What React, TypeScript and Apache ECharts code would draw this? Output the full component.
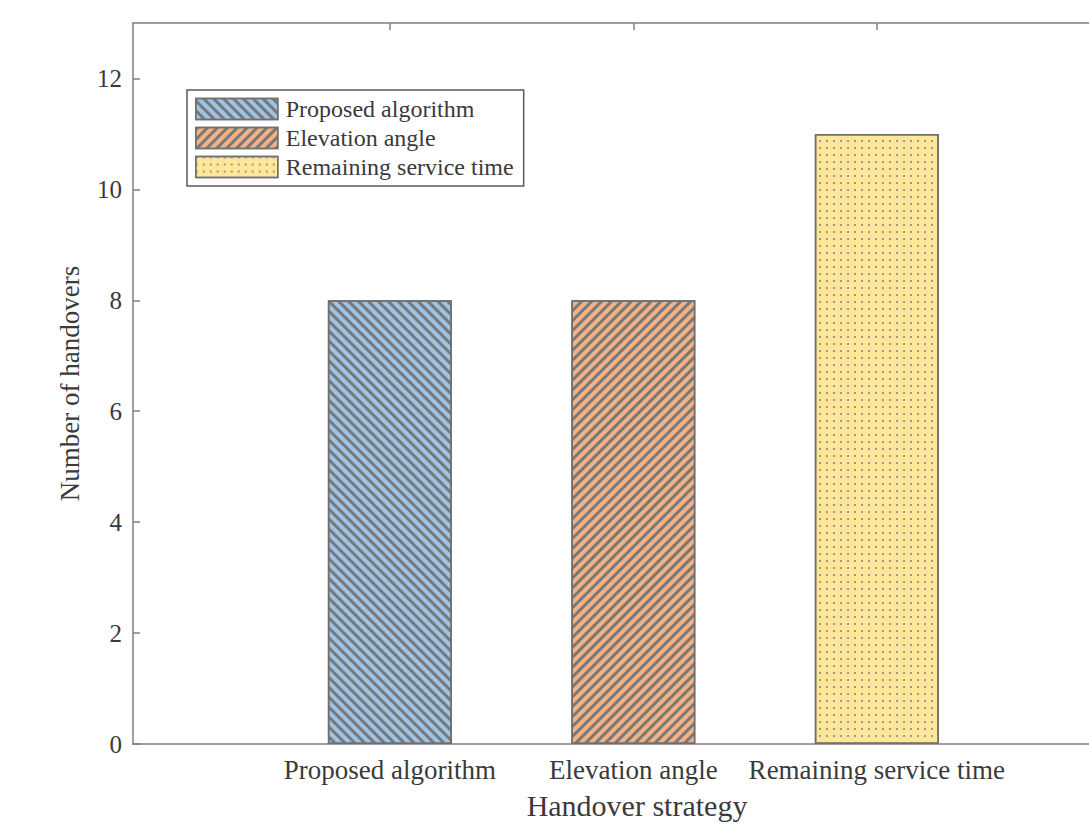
import React, { useEffect, useRef } from 'react';
import * as echarts from 'echarts';

const categories = ['Proposed algorithm', 'Elevation angle', 'Remaining service time'];
const positions = [1, 2, 3];
const handovers = [8, 8, 11];
const yTicks = [0, 2, 4, 6, 8, 10, 12];
const fillColors = ['#9DC3E6', '#F4B183', '#FFE699'];

const FONT = '"Liberation Serif", "Times New Roman", serif';
const AXIS_COLOR = '#7f7f7f';
const TEXT_COLOR = '#3a3a3a';
const EDGE = '#6f6f6f';
const HATCH = '#787878';

const decals: any[] = [
  { symbol: 'rect', symbolSize: 1, dashArrayX: [1, 0], dashArrayY: [2.5, 3.5], rotation: Math.PI / 4, color: HATCH },
  { symbol: 'rect', symbolSize: 1, dashArrayX: [1, 0], dashArrayY: [2.5, 3.5], rotation: -Math.PI / 4, color: HATCH },
  { symbol: 'circle', symbolSize: 1, dashArrayX: [1.6, 4.4], dashArrayY: [1.6, 4.4], rotation: 0, color: '#8a8a8a' },
];

export default function App() {
  const ref = useRef<HTMLDivElement>(null);
  useEffect(() => {
    const chart = echarts.init(ref.current!, null, { renderer: 'svg' });
    const xMin = -0.055;
    const xMax = 4.085;
    const option: any = {
      animation: false,
      backgroundColor: '#ffffff',
      grid: { left: 133, top: 23, width: 1008, height: 723, containLabel: false },
      legend: {
        orient: 'vertical',
        left: 187,
        top: 90,
        padding: [7, 10, 7, 8],
        itemWidth: 82,
        itemHeight: 21,
        itemGap: 5,
        borderColor: '#5a5a5a',
        borderWidth: 1.5,
        backgroundColor: '#ffffff',
        icon: 'rect',
        textStyle: { fontFamily: FONT, fontSize: 24, color: TEXT_COLOR, padding: [0, 0, 0, 3] },
        itemStyle: { borderColor: EDGE, borderWidth: 1.5 },
        data: categories,
      },
      xAxis: [
        {
          type: 'value',
          position: 'bottom',
          min: xMin,
          max: xMax,
          name: 'Handover strategy',
          nameLocation: 'middle',
          nameGap: 46,
          nameTextStyle: { fontFamily: FONT, fontSize: 30, color: TEXT_COLOR },
          axisLine: { show: true, onZero: false, lineStyle: { color: AXIS_COLOR, width: 1.5 } },
          axisTick: { show: true, inside: true, length: 7, customValues: positions, lineStyle: { color: AXIS_COLOR, width: 1.5 } },
          axisLabel: {
            customValues: positions,
            margin: 12,
            fontFamily: FONT,
            fontSize: 27,
            color: TEXT_COLOR,
            formatter: (v: number) => categories[positions.indexOf(Math.round(v))] ?? '',
          },
          splitLine: { show: false },
        },
        {
          type: 'value',
          position: 'top',
          min: xMin,
          max: xMax,
          axisLine: { show: true, onZero: false, lineStyle: { color: AXIS_COLOR, width: 1.5 } },
          axisTick: { show: true, inside: true, length: 7, customValues: positions, lineStyle: { color: AXIS_COLOR, width: 1.5 } },
          axisLabel: { show: false },
          splitLine: { show: false },
        },
      ],
      yAxis: [
        {
          type: 'value',
          position: 'left',
          min: 0,
          max: 13,
          name: 'Number of handovers',
          nameLocation: 'middle',
          nameGap: 50,
          nameTextStyle: { fontFamily: FONT, fontSize: 27, color: TEXT_COLOR },
          axisLine: { show: true, onZero: false, lineStyle: { color: AXIS_COLOR, width: 1.5 } },
          axisTick: { show: true, inside: true, length: 7, customValues: yTicks, lineStyle: { color: AXIS_COLOR, width: 1.5 } },
          axisLabel: { customValues: yTicks, margin: 11, fontFamily: FONT, fontSize: 25, color: TEXT_COLOR },
          splitLine: { show: false },
        },
        {
          type: 'value',
          position: 'right',
          min: 0,
          max: 13,
          axisLine: { show: true, onZero: false, lineStyle: { color: AXIS_COLOR, width: 1.5 } },
          axisTick: { show: true, inside: true, length: 7, customValues: yTicks, lineStyle: { color: AXIS_COLOR, width: 1.5 } },
          axisLabel: { show: false },
          splitLine: { show: false },
        },
      ],
      series: categories.map((name, i) => ({
        type: 'bar',
        name,
        xAxisIndex: 0,
        yAxisIndex: 0,
        barWidth: 124,
        barGap: '-100%',
        data: [[positions[i], handovers[i]]],
        itemStyle: {
          color: fillColors[i],
          borderColor: EDGE,
          borderWidth: 1.5,
          decal: decals[i],
        },
      })),
    };
    chart.setOption(option);
    return () => chart.dispose();
  }, []);
  return (
    <div style={{ position: 'fixed', left: 0, top: 0, width: 1089, height: 825, background: '#fff', overflow: 'hidden' }}>
      <div ref={ref} style={{ position: 'absolute', left: 0, top: 0, width: 1200, height: 825 }} />
    </div>
  );
}
